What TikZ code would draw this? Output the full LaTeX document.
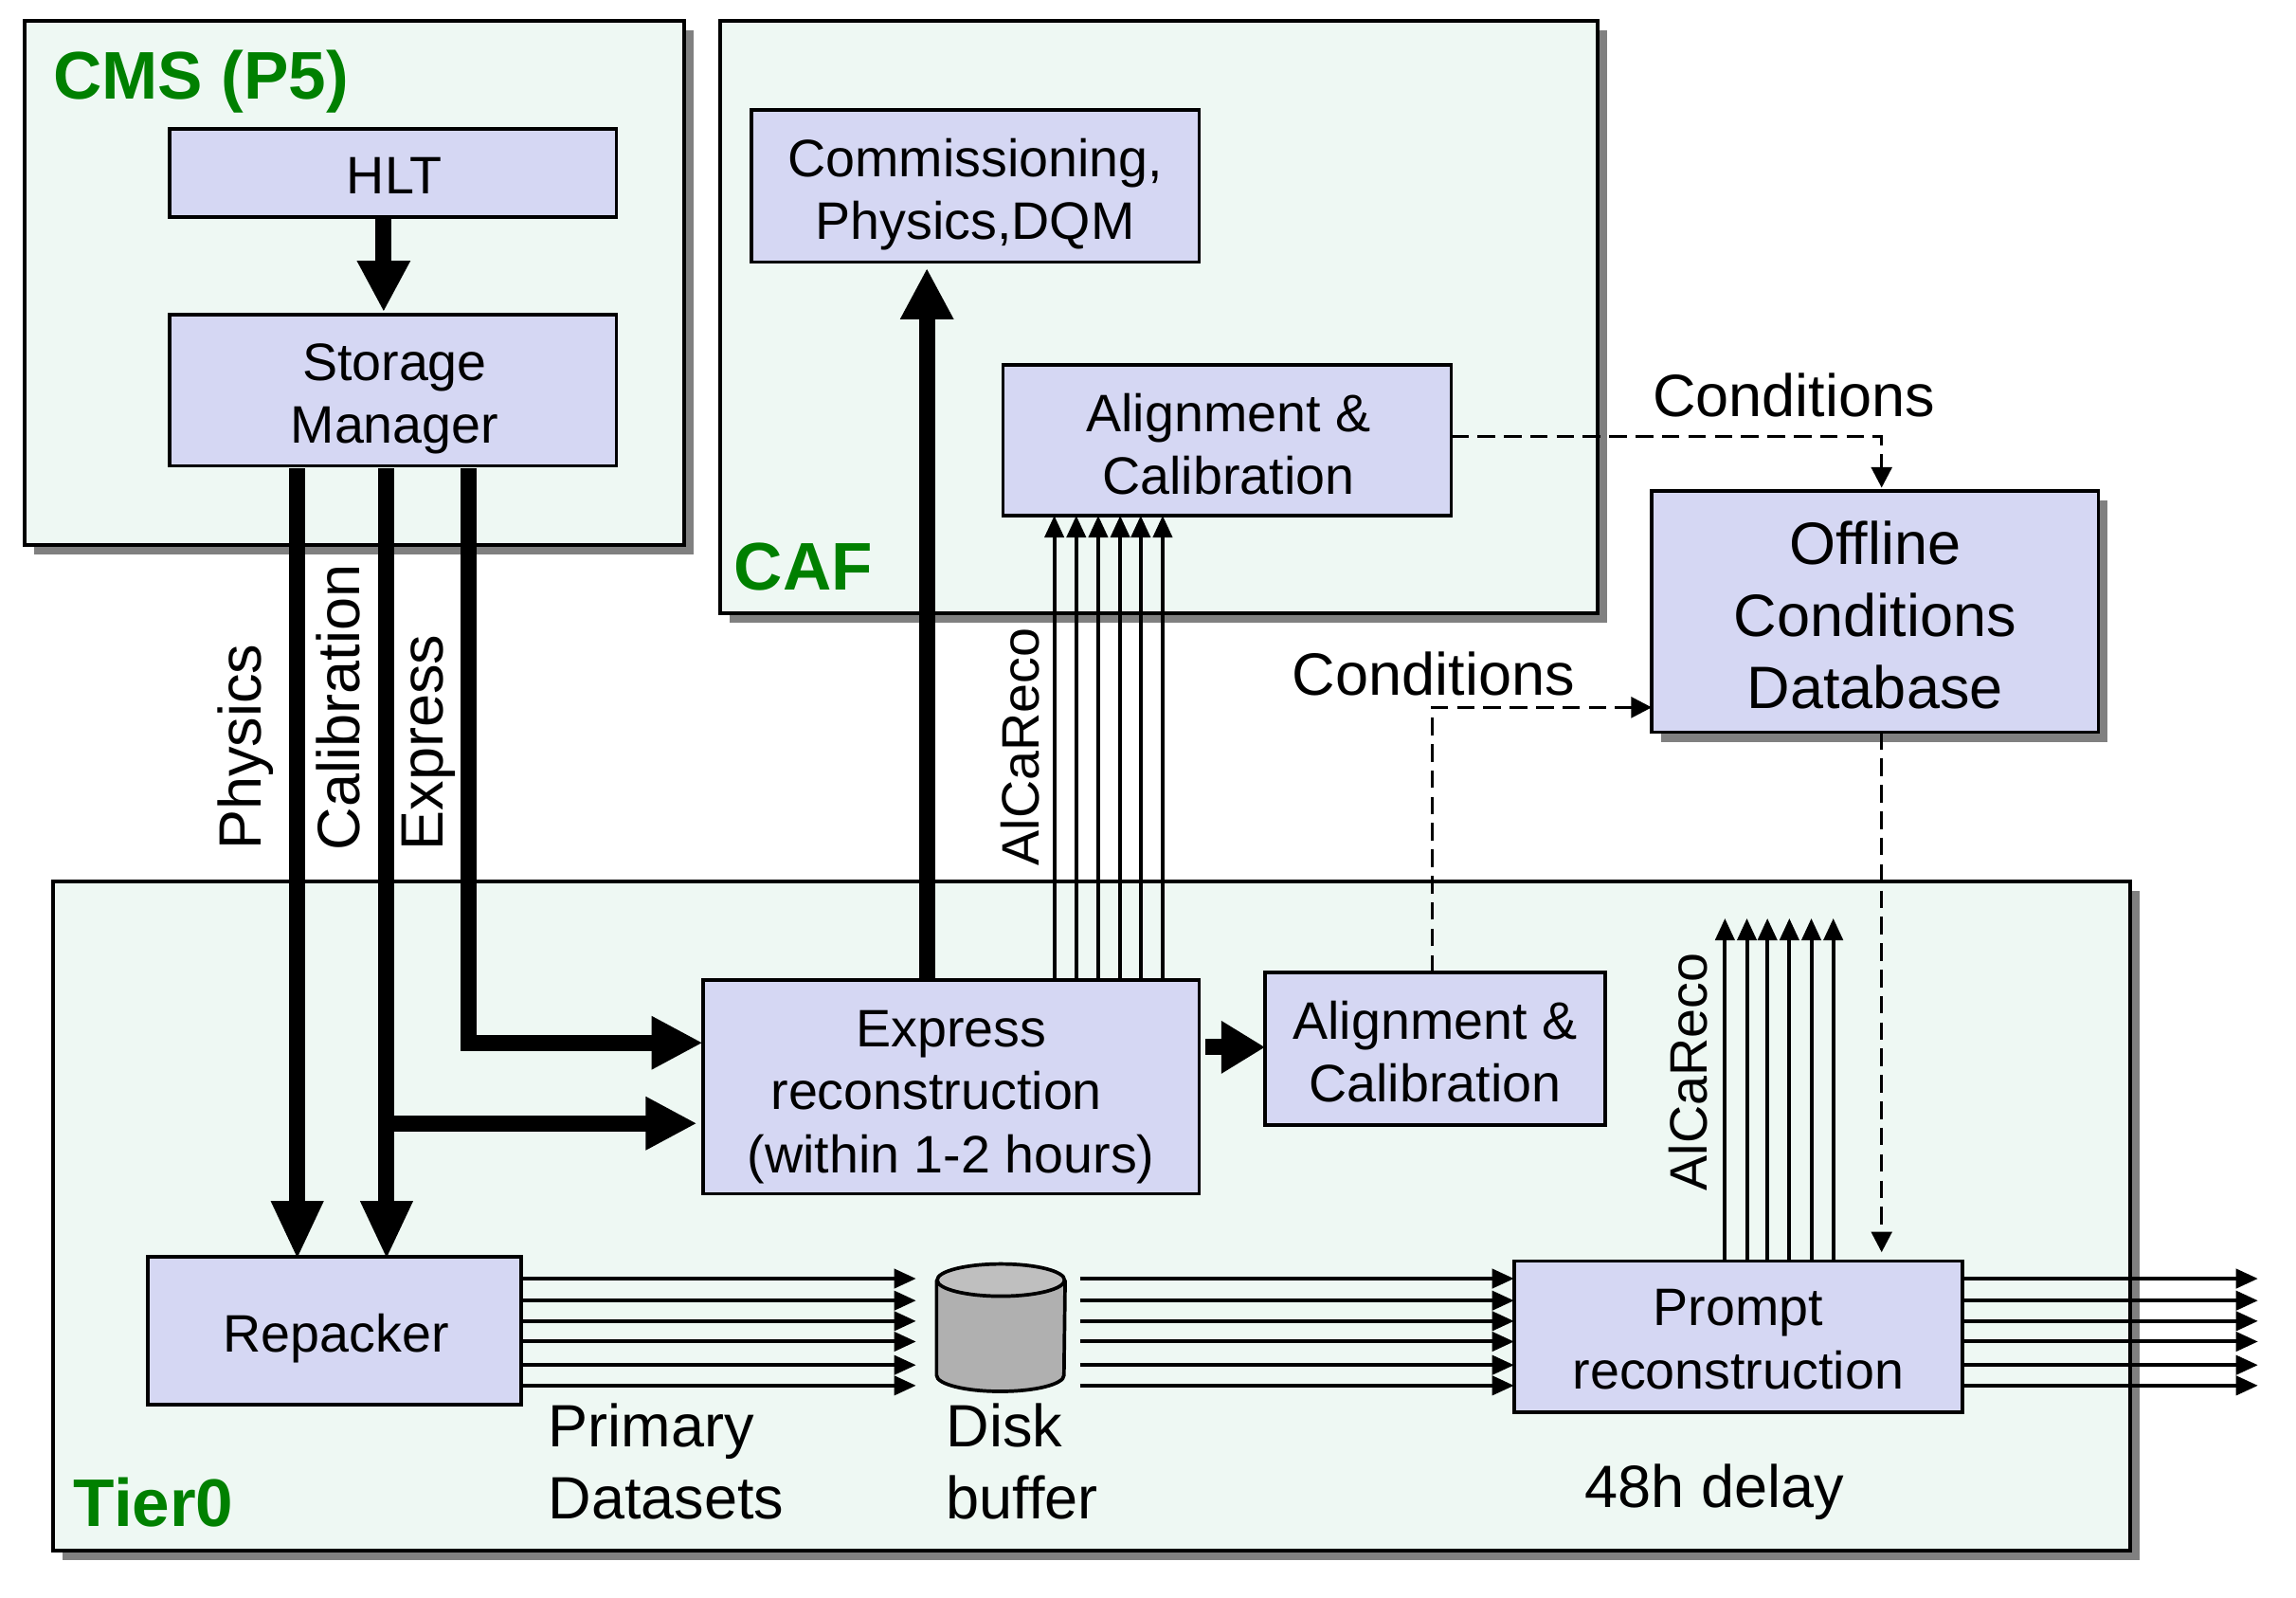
\documentclass[tikz,border=0pt]{standalone}
\usepackage{fontspec}
\setmainfont{Liberation Sans}
\usetikzlibrary{arrows.meta,shadows}
\definecolor{grpfill}{HTML}{EEF8F3}
\definecolor{boxfill}{HTML}{D5D7F3}
\definecolor{grpgreen}{HTML}{008000}
\definecolor{shadowgray}{HTML}{808080}
\newcommand{\bx}[6][]{%
  \pgfmathsetmacro{\mycx}{(#3+#5)/2}\pgfmathsetmacro{\mycy}{(#4+#6)/2}%
  \pgfmathsetmacro{\mywd}{(#5-#3)*0.5}\pgfmathsetmacro{\myht}{(#6-#4)*0.5}%
  \node[minimum width=\mywd pt,minimum height=\myht pt,#1] (#2) at (\mycx,\mycy) {};}
\tikzset{
  x=0.5pt,y=-0.5pt,
  grp/.style={draw=black,line width=1.3pt,fill=grpfill,inner sep=0pt,outer sep=0pt,
    drop shadow={shadow xshift=3.2pt,shadow yshift=-3.2pt,fill=shadowgray,opacity=1}},
  bluebox/.style={draw=black,line width=1.2pt,fill=boxfill,inner sep=0pt,outer sep=0pt},
  dbbox/.style={bluebox,
    drop shadow={shadow xshift=3.2pt,shadow yshift=-3.2pt,fill=shadowgray,opacity=1}},
  boxtext/.style={inner sep=0pt,align=center,font=\fontsize{18}{21.5}\selectfont},
  dbtext/.style={inner sep=0pt,align=center,font=\fontsize{20.4}{24.5}\selectfont},
  grplabel/.style={anchor=west,inner sep=0pt,text=grpgreen,font=\fontsize{23}{27}\selectfont\bfseries},
  lab/.style={inner sep=0pt,font=\fontsize{20.4}{24.5}\selectfont,align=left},
  smalllab/.style={inner sep=0pt,font=\fontsize{18}{21.5}\selectfont},
  thick arrow/.style={line width=5.5pt,-{Triangle[width=17pt,length=17.5pt]}},
  long arrow/.style={line width=5.5pt,-{Triangle[width=16.5pt,length=20pt]}},
  short arrow/.style={line width=5.5pt,-{Triangle[width=17pt,length=15pt]}},
  thin arrow/.style={line width=1.3pt,-{Triangle[width=6.5pt,length=7.5pt]}},
  dash arrow/.style={line width=1.1pt,dash pattern=on 6pt off 3pt,-{Triangle[width=7pt,length=7pt]}},
}
\begin{document}
\begin{tikzpicture}
\useasboundingbox (0,0) rectangle (1568,1091);
% groups
\bx[grp]{cms}{17}{14}{467}{372}
\bx[grp]{caf}{492}{14}{1091}{419}
\bx[grp]{tier}{36}{602}{1455}{1059}
\node[grplabel] (cmslab) at (36,56) {CMS (P5)};
\node[grplabel] (caflab) at (501,387) {CAF};
\node[grplabel] (tierlab) at (50,1026) {Tier0};
% boxes
\bx[bluebox]{hlt}{116}{88}{421}{148}
\bx[bluebox]{sm}{116}{215}{421}{318}
\bx[bluebox]{comm}{513}{75}{819}{179}
\bx[bluebox]{alcaltop}{685}{249}{991}{352}
\bx[dbbox]{ocdb}{1128}{335}{1433}{500}
\bx[bluebox]{expr}{480}{669}{819}{815}
\bx[bluebox]{alcallow}{864}{664}{1096}{768}
\bx[bluebox]{rep}{101}{858}{356}{959}
\bx[bluebox]{prompt}{1034}{861}{1340}{964}
\node[boxtext] (hlttxt) at ([yshift=-1pt,xshift=0.5pt]hlt.center) {HLT};
\node[boxtext] (smtxt) at ([yshift=-3pt,xshift=0.5pt]sm.center) {Storage\\Manager};
\node[boxtext] (commtxt) at ([yshift=-2.8pt]comm.center) {Commissioning,\\Physics,DQM};
\node[boxtext] (alcaltoptxt) at ([yshift=-1.3pt,xshift=0.5pt]alcaltop.center) {Alignment \&\\Calibration};
\node[dbtext] (ocdbtxt) at ([yshift=-1.2pt]ocdb.center) {Offline\\Conditions\\Database};
\node[boxtext] (exprtxt) at ([yshift=-3.5pt]expr.center) {Express\\\hspace*{-10pt}reconstruction\\(within 1-2 hours)};
\node[boxtext] (alcallowtxt) at ([yshift=-1pt]alcallow.center) {Alignment \&\\Calibration};
\node[boxtext] (reptxt) at ([yshift=-2.5pt,xshift=0.5pt]rep.center) {Repacker};
\node[boxtext] (prompttxt) at ([yshift=-1pt]prompt.center) {Prompt\\reconstruction};
\bx{disk}{640}{863}{727}{950}
\filldraw[line width=1.2pt,fill=gray!62] (disk.west |- 0,874) -- (disk.west |- 0,939)
   arc[start angle=180,end angle=360,x radius=43.5,y radius=-11] -- (disk.east |- 0,874);
\filldraw[line width=1.2pt,fill=gray!50] (683.5,874) ellipse[x radius=43.5,y radius=11];
% free ends
\coordinate (outlet) at (1542,900);
\coordinate (aruptop) at (1215,627);
% thick arrows
\draw[thick arrow,shorten >=1pt] (hlt.south -| 262,0) -- (sm.north -| 262,0);
\draw[long arrow,shorten <=1pt,shorten >=-1pt] (sm.south -| 203,0) -- (rep.north -| 203,0);
\draw[long arrow,shorten <=1pt,shorten >=-1pt] (sm.south -| 264,0) -- (rep.north -| 264,0);
\draw[thick arrow,shorten <=1pt] (sm.south -| 320,0) |- (expr.west |- 0,712);
\draw[thick arrow,shorten >=2pt] (264,767) -- (expr.west |- 0,767);
\draw[thick arrow,shorten >=2pt] (expr.north -| 633,0) -- (comm.south -| 633,0);
\draw[short arrow,shorten <=2pt] (expr.east |- 0,715) -- (alcallow.west |- 0,715);
% thin bundles
\foreach \xx in {720,735,750,765,779,794}
  \draw[thin arrow] (expr.north -| \xx,0) -- (alcaltop.south -| \xx,0);
\foreach \xx in {1178,1193,1207,1222,1237,1252}
  \draw[thin arrow] (prompt.north -| \xx,0) -- (aruptop -| \xx,0);
\foreach \yy in {873,888,902,916,932,946}{
  \draw[thin arrow,shorten >=7pt] (rep.east |- 0,\yy) -- (disk.west |- 0,\yy);
  \draw[thin arrow,shorten <=5pt] (disk.east |- 0,\yy) -- (prompt.west |- 0,\yy);
  \draw[thin arrow] (prompt.east |- 0,\yy) -- (outlet |- 0,\yy);
}
% dashed
\draw[dash arrow] (alcaltop.east |- 0,298) -| ([yshift=1pt]ocdb.north -| 1285,0);
\draw[dash arrow] (alcallow.north -| 978,0) |- (ocdb.west |- 0,483);
\draw[dash arrow,shorten >=3pt] (ocdb.south -| 1285,0) -- (prompt.north -| 1285,0);
% labels
\node[lab,rotate=90] (lphys) at (168,510) {Physics};
\node[lab,rotate=90] (lcal) at (231,483) {Calibration};
\node[lab,rotate=90] (lexp) at (293,507) {Express};
\node[smalllab,rotate=90] (lalca) at (697,510) {AlCaReco};
\node[smalllab,rotate=90] (lalcb) at (1153,732) {AlCaReco};
\node[lab] (lconda) at (1225,270) {Conditions};
\node[lab] (lcondb) at (979,460) {Conditions};
\node[lab,anchor=north west] (lprim) at (374,958) {Primary\\Datasets};
\node[lab,anchor=north west] (ldisk) at (646,958) {Disk\\buffer};
\node[lab] (ldelay) at (1171,1019) {48h delay};
\end{tikzpicture}
\end{document}
